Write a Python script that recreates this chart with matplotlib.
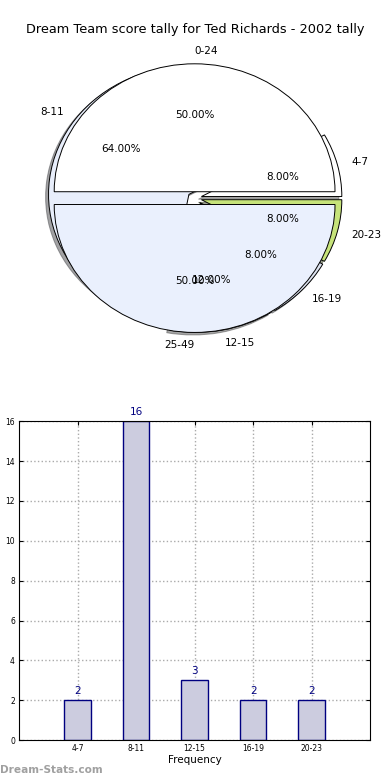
import matplotlib
matplotlib.use("Agg")
import matplotlib.pyplot as plt
import numpy as np

# data
title = "Dream Team score tally for Ted Richards - 2002 tally"
split_labels = ["0-24", "25-49"]
split_values = [1, 1]
bins = ["4-7", "8-11", "12-15", "16-19", "20-23"]
counts = [2, 16, 3, 2, 2]

bin_colors = ["#ffffff", "#e8eefb", "#ffffff", "#dde3f0", "#c6e37a"]
split_colors = ["#ffffff", "#eaf0fd"]

fig = plt.figure(figsize=(3.9, 7.8), dpi=100)
fig.text(0.5, 1 - 30 / 780, title, ha="center", va="center", fontsize=9.3)

# pie (two pies on the same axes, like the original)
ax1 = fig.add_axes([0.049, 0.541, 0.9, 0.41])
w1, t1, a1 = ax1.pie(counts, labels=bins, colors=bin_colors, explode=[0.05] * 5,
                     autopct="%1.2f%%", shadow={"ox": -0.015, "oy": -0.015},
                     startangle=0,
                     wedgeprops={"edgecolor": "black", "linewidth": 0.7},
                     textprops={"fontsize": 7.5})
w2, t2, a2 = ax1.pie(split_values, labels=split_labels, colors=split_colors,
                     explode=[0.05] * 2, autopct="%1.2f%%", startangle=0,
                     wedgeprops={"edgecolor": "black", "linewidth": 0.7},
                     textprops={"fontsize": 7.5})
t2[0].set_ha("left")
t2[1].set_ha("right")
ax1.set_aspect("auto")
ax1.set_xlim(-1.25, 1.25)
ax1.set_ylim(-1.25, 1.25)
ax1.axis("off")

# bar chart
ax2 = fig.add_axes([0.049, 0.051, 0.9, 0.409])
x = np.arange(len(bins))
ax2.bar(x, counts, width=0.45, color="#ccccdf", edgecolor="#000080", linewidth=1.0, zorder=2)
for xi, c in zip(x, counts):
    ax2.text(xi, c + 0.2, str(c), ha="center", va="bottom", color="#000080", fontsize=7.5)
ax2.set_xlim(-1, 5)
ax2.set_ylim(0, 16)
ax2.set_xticks(x)
ax2.set_xticklabels(bins, fontsize=5.5)
ax2.set_yticks(range(0, 17, 2))
ax2.tick_params(axis="y", labelsize=5.5)
ax2.tick_params(direction="in", length=3, top=True, right=True, pad=3)
ax2.grid(True, linestyle=":", color="#aaaaaa", linewidth=1.0, zorder=0)
ax2.set_axisbelow(True)
ax2.set_xlabel("Frequency", fontsize=7.5, labelpad=1)
ax2.set_ylabel("Stat Interval", fontsize=7.5)
ax2.yaxis.set_label_coords(-0.13, 0.5)

fig.text(0.0, 1 - 770 / 780, "Dream-Stats.com", ha="left", va="center",
         fontsize=7.6, color="#a0a0a0", fontweight="bold")

fig.savefig("out.png", dpi=100)
